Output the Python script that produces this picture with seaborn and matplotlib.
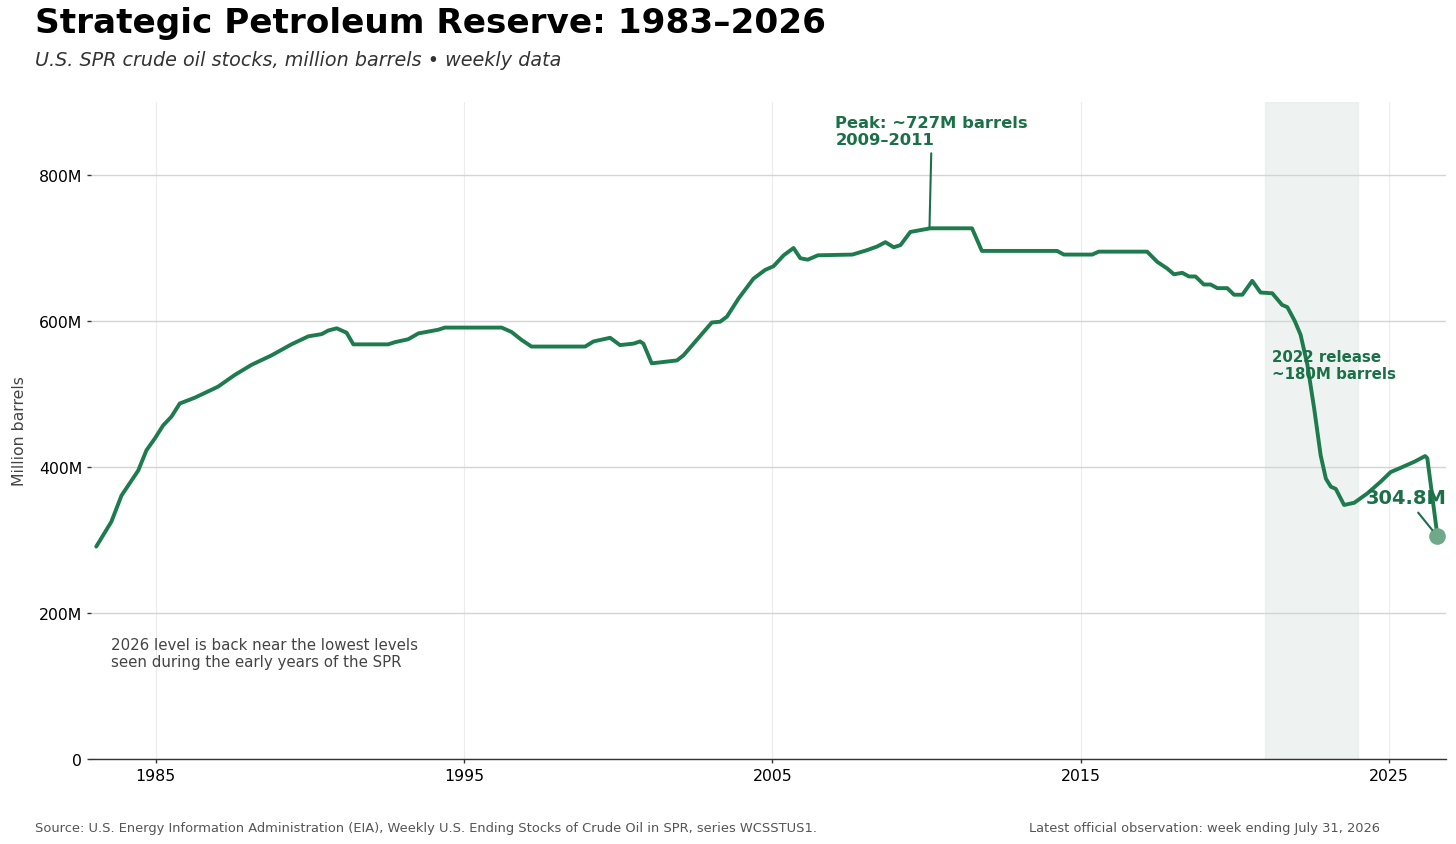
import numpy as np
import pandas as pd
import matplotlib
matplotlib.use("Agg")
import matplotlib.pyplot as plt
import seaborn as sns

# DATA (decimal years / million barrels)
years = [1983.07, 1983.56, 1983.89, 1984.43, 1984.70, 1984.97, 1985.24, 1985.51,
         1985.78, 1986.27, 1987.02, 1987.56, 1988.11, 1988.76, 1989.40, 1989.95,
         1990.38, 1990.60, 1990.87, 1991.19, 1991.41, 1992.54, 1992.76, 1993.19,
         1993.52, 1994.16, 1994.38, 1996.22, 1996.54, 1996.87, 1997.19, 1998.93,
         1999.20, 1999.74, 2000.06, 2000.50, 2000.71, 2000.82, 2001.09, 2001.91,
         2002.12, 2002.55, 2003.04, 2003.31, 2003.53, 2003.91, 2004.39, 2004.77,
         2005.04, 2005.37, 2005.69, 2005.91, 2006.15, 2006.48, 2007.60, 2008.07,
         2008.40, 2008.67, 2008.94, 2009.16, 2009.48, 2010.13, 2011.48, 2011.80,
         2014.24, 2014.46, 2015.38, 2015.59, 2017.16, 2017.49, 2017.81, 2018.03,
         2018.30, 2018.52, 2018.73, 2019.00, 2019.22, 2019.44, 2019.76, 2019.98,
         2020.25, 2020.57, 2020.84, 2021.22, 2021.54, 2021.71, 2021.95, 2022.14,
         2022.36, 2022.58, 2022.79, 2022.96, 2023.12, 2023.28, 2023.55, 2023.88,
         2024.31, 2024.74, 2025.06, 2025.39, 2025.82, 2026.18, 2026.25, 2026.58]
stocks_mbbl = [291, 325, 361, 395, 423, 439, 457, 469,
               487, 495, 510, 526, 540, 553, 568, 579,
               582, 587, 590, 584, 568, 568, 571, 575,
               583, 588, 591, 591, 585, 574, 565, 565,
               572, 577, 567, 569, 572, 569, 542, 546,
               553, 574, 598, 599, 606, 631, 658, 670,
               675, 690, 700, 686, 684, 690, 691, 697,
               702, 708, 701, 704, 722, 727, 727, 696,
               696, 691, 691, 695, 695, 681, 672, 664,
               666, 661, 661, 650, 650, 645, 645, 636,
               636, 655, 639, 638, 622, 619, 600, 581,
               540, 480, 416, 384, 373, 370, 348, 351,
               364, 380, 393, 399, 407, 415, 412, 304.8]

release_span = (2021.0, 2024.0)
year_ticks = [1985, 1995, 2005, 2015, 2025]
level_ticks = [0, 200, 400, 600, 800]
level_labels = ["0", "200M", "400M", "600M", "800M"]

df = pd.DataFrame({"year": years, "stocks": stocks_mbbl})

GREEN = "#1e7b4e"
TEXT_GREEN = "#1b7048"

sns.set_style("white")
plt.rcParams["font.family"] = ["DejaVu Sans"]
plt.rcParams["text.color"] = "black"

fig = plt.figure(figsize=(14.56, 8.45), dpi=100)
ax = fig.add_axes([0.0625, 0.1006, 0.9305, 0.7775])

ax.axvspan(*release_span, color="#dfe8e5", alpha=0.5, lw=1, zorder=0)
sns.lineplot(data=df, x="year", y="stocks", ax=ax, color=GREEN, lw=2.8, zorder=3)

# last point marker
ax.plot(df["year"].iloc[-1], df["stocks"].iloc[-1], "o", ms=11, color="#6fa98a", zorder=4)

ax.set_xlim(1982.9, 2026.85)
ax.set_ylim(0, 900)
ax.set_xticks(year_ticks)
ax.set_xticklabels([str(y) for y in year_ticks])
ax.set_yticks(level_ticks)
ax.set_yticklabels(level_labels)
ax.tick_params(axis="both", labelsize=11.3, length=3, width=1, color="#333333",
               labelcolor="black", left=True, bottom=True)
ax.set_xlabel("")
ax.set_ylabel("Million barrels", fontsize=11.3, color="#444444", labelpad=8)

ax.grid(axis="y", color="#d4d4d4", lw=1)
ax.grid(axis="x", color="#ececec", lw=0.8)
ax.set_axisbelow(True)
for s in ["top", "right", "left"]:
    ax.spines[s].set_visible(False)
ax.spines["bottom"].set_color("#333333")
ax.spines["bottom"].set_linewidth(1)

# annotations
ax.annotate("Peak: ~727M barrels\n2009\u20132011", xy=(2010.1, 727), xytext=(2007.05, 838),
            ha="left", va="bottom", fontsize=11.8, fontweight="bold", color=TEXT_GREEN,
            arrowprops=dict(arrowstyle="-", color=TEXT_GREEN, lw=1.5, shrinkB=1))
ax.text(2021.22, 562, "2022 release\n~180M barrels", ha="left", va="top",
        fontsize=10.8, fontweight="bold", color=TEXT_GREEN, zorder=5)
ax.annotate("304.8M", xy=(df["year"].iloc[-1], df["stocks"].iloc[-1]), xytext=(2024.25, 345),
            ha="left", va="bottom", fontsize=14, fontweight="bold", color=TEXT_GREEN, zorder=5,
            arrowprops=dict(arrowstyle="-", color=TEXT_GREEN, lw=1.5, shrinkB=6))
ax.text(1983.54, 167, "2026 level is back near the lowest levels\nseen during the early years of the SPR",
        ha="left", va="top", fontsize=10.8, color="#444444")

# titles and footer
fig.text(0.024, 0.953, "Strategic Petroleum Reserve: 1983\u20132026", fontsize=24.7,
         fontweight="bold", color="black", ha="left", va="bottom")
fig.text(0.024, 0.917, "U.S. SPR crude oil stocks, million barrels \u2022 weekly data",
         fontsize=13.8, style="italic", color="#333333", ha="left", va="bottom")
fig.text(0.024, 0.012, "Source: U.S. Energy Information Administration (EIA), Weekly U.S. Ending Stocks of Crude Oil in SPR, series WCSSTUS1.",
         fontsize=9.35, color="#555555", ha="left", va="bottom")
fig.text(0.707, 0.012, "Latest official observation: week ending July 31, 2026",
         fontsize=9.35, color="#555555", ha="left", va="bottom")

fig.savefig("out.png", dpi=100)
